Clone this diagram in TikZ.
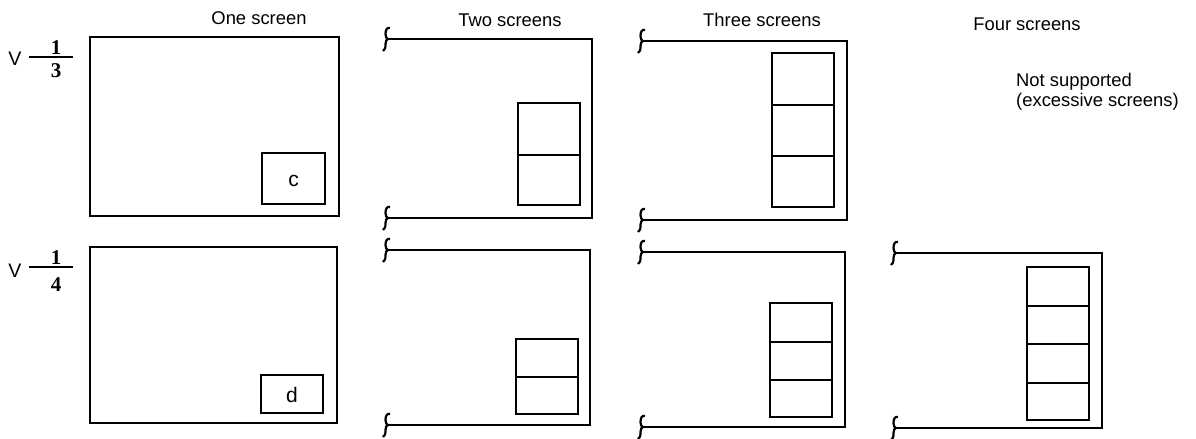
\documentclass[tikz,border=0pt]{standalone}
\usepackage{fontspec}
\setmainfont{Liberation Sans}
\newfontfamily\numfont{Liberation Serif}
\begin{document}
\begin{tikzpicture}[x=0.5pt, y=-0.5pt, line width=1.2pt,
    lbl/.style={font=\fontsize{9.2}{11}\selectfont, inner sep=0pt},
    fracnum/.style={font=\numfont\bfseries\fontsize{10.5}{12}\selectfont, inner sep=0pt},
    pics/brk/.style={code={
        \draw[line width=1.1pt] (3,-11) .. controls (0,-12) and (-1.5,-9) .. (-1.5,-5)
          .. controls (-1.5,-2) and (-0.5,-0.5) .. (1,0)
          .. controls (-0.5,0.5) and (-1.5,2) .. (-1.5,5)
          .. controls (-1.5,9) and (-2,11) .. (-4,12);}}]
    \useasboundingbox (0,0) rectangle (1196,439);

    % Titles
    \node[lbl, anchor=base] (tone) at (259,25) {One screen};
    \node[lbl, anchor=base] (ttwo) at (510,26) {Two screens};
    \node[lbl, anchor=base] (tthree) at (762,26) {Three screens};
    \node[lbl, anchor=base] (tfour) at (1027,31) {Four screens};
    \node[lbl, anchor=base west] (nsa) at (1015,86) {Not supported};
    \node[lbl, anchor=base west] (nsb) at (1015,106) {(excessive screens)};

    % Row labels
    \node[lbl, font=\fontsize{9.8}{11}\selectfont, anchor=base] (va) at (15,65) {V};
    \draw (29,57) -- (73,57);
    \node[fracnum] (na) at (56,48) {1};
    \node[fracnum] (da) at (56,71) {3};
    \node[lbl, font=\fontsize{9.8}{11}\selectfont, anchor=base] (vb) at (15,277) {V};
    \draw (29,267) -- (73,267);
    \node[fracnum] (nb) at (56,258) {1};
    \node[fracnum] (db) at (56,285) {4};

    % One screen
    \draw (90,37) rectangle (339,216);
    \draw (262,153) rectangle (325,204);
    \node[lbl, font=\fontsize{10.5}{12}\selectfont, anchor=base] (c) at (293.5,186) {c};
    \draw (90,247) rectangle (337,423);
    \draw (261,375) rectangle (323,413);
    \node[lbl, font=\fontsize{10.5}{12}\selectfont, anchor=base] (d) at (292,402) {d};

    % Open frames (cut at the left)
    \foreach \l/\t/\r/\b in {387/39/592/218, 642/41/847/220, 387/250/590/425,
                             642/252/845/427, 895/253/1102/428} {
        \draw (\l+1,\t) -- (\r,\t) -- (\r,\b) -- (\l+1,\b);
        \pic at (\l,\t) {brk};
        \pic at (\l,\b) {brk};
    }

    % Stacked screens
    \foreach \ya/\yb in {103/155, 155/205}
        \draw (518,\ya) rectangle (580,\yb);
    \foreach \ya/\yb in {53/105, 105/156, 156/207}
        \draw (772,\ya) rectangle (834,\yb);
    \foreach \ya/\yb in {339/377, 377/414}
        \draw (516,\ya) rectangle (578,\yb);
    \foreach \ya/\yb in {303/342, 342/380, 380/417}
        \draw (770,\ya) rectangle (832,\yb);
    \foreach \ya/\yb in {267/306, 306/344, 344/383, 383/420}
        \draw (1027,\ya) rectangle (1089,\yb);
\end{tikzpicture}
\end{document}
